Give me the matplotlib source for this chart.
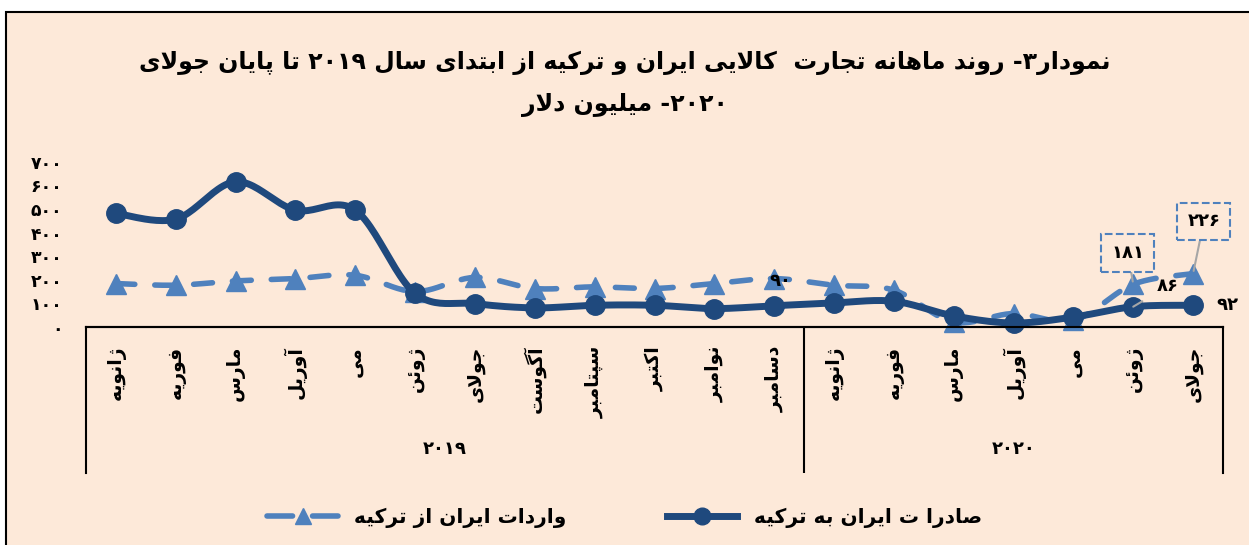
import re
import numpy as np
import matplotlib.pyplot as plt
from matplotlib.lines import Line2D
from matplotlib.patches import Rectangle

# ---- data (million USD) ----
months_2019 = ['ژانویه', 'فوریه', 'مارس', 'آوریل', 'می', 'ژوئن', 'جولای',
               'آگوست', 'سپتامبر', 'اکتبر', 'نوامبر', 'دسامبر']
months_2020 = ['ژانویه', 'فوریه', 'مارس', 'آوریل', 'می', 'ژوئن', 'جولای']
years = ['۲۰۱۹', '۲۰۲۰']
exports = [481, 457, 615, 495, 495, 142, 99, 81, 92, 92, 78, 90,
           102, 109, 47, 17, 42, 86, 92]
imports = [184, 177, 195, 205, 219, 150, 210, 163, 170, 163, 184, 205,
           177, 156, 21, 57, 28, 181, 226]
ytick_vals = [0, 100, 200, 300, 400, 500, 600, 700]
ytick_labels = ['۰', '۱۰۰', '۲۰۰', '۳۰۰', '۴۰۰', '۵۰۰', '۶۰۰', '۷۰۰']

title1 = 'نمودار۳- روند ماهانه تجارت  کالایی ایران و ترکیه از ابتدای سال ۲۰۱۹ تا پایان جولای'
title2 = '۲۰۲۰- میلیون دلار'
label_exp = 'صادرا ت ایران به ترکیه'
label_imp = 'واردات ایران از ترکیه'

C_EXP = '#1F497D'
C_IMP = '#4F81BD'
BG = '#FDE9D9'

# ---- minimal Persian shaping (matplotlib has no text shaping / bidi) ----
_F = {
    'ا': ('\uFE8D', '\uFE8E', None, None),
    'آ': ('\uFE81', '\uFE82', None, None),
    'ب': ('\uFE8F', '\uFE90', '\uFE91', '\uFE92'),
    'پ': ('\uFB56', '\uFB57', '\uFB58', '\uFB59'),
    'ت': ('\uFE95', '\uFE96', '\uFE97', '\uFE98'),
    'ج': ('\uFE9D', '\uFE9E', '\uFE9F', '\uFEA0'),
    'د': ('\uFEA9', '\uFEAA', None, None),
    'ر': ('\uFEAD', '\uFEAE', None, None),
    'ز': ('\uFEAF', '\uFEB0', None, None),
    'ژ': ('\uFB8A', '\uFB8B', None, None),
    'س': ('\uFEB1', '\uFEB2', '\uFEB3', '\uFEB4'),
    'ص': ('\uFEB9', '\uFEBA', '\uFEBB', '\uFEBC'),
    'ف': ('\uFED1', '\uFED2', '\uFED3', '\uFED4'),
    'ک': ('\uFB8E', '\uFB8F', '\uFB90', '\uFB91'),
    'گ': ('\uFB92', '\uFB93', '\uFB94', '\uFB95'),
    'ل': ('\uFEDD', '\uFEDE', '\uFEDF', '\uFEE0'),
    'م': ('\uFEE1', '\uFEE2', '\uFEE3', '\uFEE4'),
    'ن': ('\uFEE5', '\uFEE6', '\uFEE7', '\uFEE8'),
    'و': ('\uFEED', '\uFEEE', None, None),
    'ه': ('\uFEE9', '\uFEEA', '\uFEEB', '\uFEEC'),
    'ی': ('\uFBFC', '\uFBFD', '\uFBFE', '\uFBFF'),
    'ئ': ('\uFE89', '\uFE8A', '\uFE8B', '\uFE8C'),
}
_LAMALEF = {'ا': ('\uFEFB', '\uFEFC'), 'آ': ('\uFEF5', '\uFEF6')}


def fa(s):
    out = []
    n = len(s)

    def joins_prev(k):
        return k > 0 and s[k - 1] in _F and _F[s[k - 1]][2] is not None

    i = 0
    while i < n:
        c = s[i]
        if c == 'ل' and i + 1 < n and s[i + 1] in _LAMALEF:
            out.append(_LAMALEF[s[i + 1]][1 if joins_prev(i) else 0])
            i += 2
            continue
        if c in _F:
            f = _F[c]
            jp = joins_prev(i)
            jn = f[2] is not None and i + 1 < n and s[i + 1] in _F
            if jp and jn:
                out.append(f[3])
            elif jp:
                out.append(f[1])
            elif jn:
                out.append(f[2])
            else:
                out.append(f[0])
        else:
            out.append(c)
        i += 1
    vis = ''.join(out)[::-1]
    return re.sub(r'[0-9۰-۹]+', lambda m: m.group(0)[::-1], vis)


def smooth(y, n=24):
    # Bezier/Catmull-Rom style smoothing like Excel's "smoothed line"
    y = np.asarray(y, float)
    x = np.arange(len(y), dtype=float)
    xs, ys = [], []
    t = np.linspace(0, 1, n, endpoint=False)
    for i in range(len(y) - 1):
        i0, i3 = max(i - 1, 0), min(i + 2, len(y) - 1)
        for arr, res in ((x, xs), (y, ys)):
            p0, p1, p2, p3 = arr[i0], arr[i], arr[i + 1], arr[i3]
            c1 = p1 + (p2 - p0) / 6
            c2 = p2 - (p3 - p1) / 6
            res.extend((1 - t) ** 3 * p1 + 3 * (1 - t) ** 2 * t * c1
                       + 3 * (1 - t) * t ** 2 * c2 + t ** 3 * p2)
    xs.append(x[-1])
    ys.append(y[-1])
    return np.array(xs), np.array(ys)


W, H = 1249, 545
fig = plt.figure(figsize=(W / 100, H / 100), dpi=100, facecolor='white')
fig.add_artist(Rectangle((6 / W, -0.1), 1.2, (H - 12) / H + 0.1, transform=fig.transFigure,
                         facecolor=BG, edgecolor='black', linewidth=1.5, zorder=0))

months = months_2019 + months_2020
x = np.arange(len(months))

# main plot area
ax = fig.add_axes([86 / W, (H - 327) / H, (1223 - 86) / W, (327 - 161.7) / H])
ax.set_facecolor('none')
ax.set_xlim(-0.5, len(months) - 0.5)
ax.set_ylim(0, 700)
for sp in ['top', 'right', 'left']:
    ax.spines[sp].set_visible(False)
ax.spines['bottom'].set_linewidth(1.5)
ax.set_xticks([])
ax.set_yticks(ytick_vals)
ax.set_yticklabels([fa(t) for t in ytick_labels], fontsize=12.5, fontweight='bold')
ax.tick_params(axis='y', length=0, pad=17)

sx, sy = smooth(imports)
ax.plot(sx, sy, color=C_IMP, lw=4, dashes=(3.4, 3.6), solid_capstyle='round',
        dash_capstyle='round', clip_on=False, zorder=2)
ax.plot(x, imports, ls='none', marker='^', ms=14, color=C_IMP, clip_on=False, zorder=3)

sx, sy = smooth(exports)
ax.plot(sx, sy, color=C_EXP, lw=5, solid_capstyle='round', clip_on=False, zorder=4)
ax.plot(x, exports, ls='none', marker='o', ms=14, color=C_EXP, clip_on=False, zorder=5)

# data labels
lab = dict(fontsize=13, fontweight='bold', color='black', ha='center', va='center', zorder=6)
ax.text(11.1, 195, fa('۹۰'), **lab)
ax.text(18.57, 93, fa('۹۲'), **lab)
ax.annotate(fa('۸۶'), xy=(17, exports[17]), xytext=(17.58, 174), textcoords='data',
            arrowprops=dict(arrowstyle='-', color='#A6A6A6', lw=1.5, shrinkA=10, shrinkB=0), **lab)
box = dict(boxstyle='square,pad=0.55', facecolor=BG, edgecolor=C_IMP, linestyle='--', linewidth=1.5)
ax.annotate(fa('۱۸۱'), xy=(17, imports[17]), xytext=(16.91, 314), textcoords='data', bbox=box,
            arrowprops=dict(arrowstyle='-', color='#A6A6A6', lw=1.5, shrinkA=0, shrinkB=2), **lab)
ax.annotate(fa('۲۲۶'), xy=(18, imports[18]), xytext=(18.18, 447), textcoords='data', bbox=box,
            arrowprops=dict(arrowstyle='-', color='#A6A6A6', lw=1.5, shrinkA=0, shrinkB=2), **lab)

# category box with month names and years
ax2 = fig.add_axes([86 / W, (H - 473) / H, (1223 - 86) / W, (473 - 327) / H])
ax2.set_facecolor('none')
ax2.set_xlim(ax.get_xlim())
ax2.set_ylim(0, 1)
ax2.set_xticks([])
ax2.set_yticks([])
for sp in ax2.spines.values():
    sp.set_linewidth(1.5)
ax2.spines['bottom'].set_visible(False)
ax2.axvline(len(months_2019) - 0.5, color='black', lw=1.5)
for i, m in enumerate(months):
    ax2.text(i, 0.87, fa(m), rotation=90, ha='center', va='top', fontsize=13.5, fontweight='bold')
ax2.text((len(months_2019) - 1) / 2, 0.165, fa(years[0]), ha='center', va='center',
         fontsize=13, fontweight='bold')
ax2.text(len(months_2019) + (len(months_2020) - 1) / 2, 0.165, fa(years[1]), ha='center',
         va='center', fontsize=13, fontweight='bold')

# titles
fig.text(0.5, (H - 63) / H, fa(title1), ha='center', va='center', fontsize=17, fontweight='bold')
fig.text(0.5, (H - 105) / H, fa(title2), ha='center', va='center', fontsize=17, fontweight='bold')

# legend
h_imp = Line2D([], [], color=C_IMP, lw=4, dashes=(4.6, 3.6), dash_capstyle='round',
               marker='^', ms=12)
h_exp = Line2D([], [], color=C_EXP, lw=5, marker='o', ms=12)
fig.legend([h_imp, h_exp], [fa(label_imp), fa(label_exp)], loc='center',
           bbox_to_anchor=(0.5, (H - 518) / H), ncol=2, frameon=False,
           prop={'size': 14.5, 'weight': 'bold'}, handlelength=3.5, columnspacing=5)

fig.savefig('out.png', dpi=100, facecolor=fig.get_facecolor())
